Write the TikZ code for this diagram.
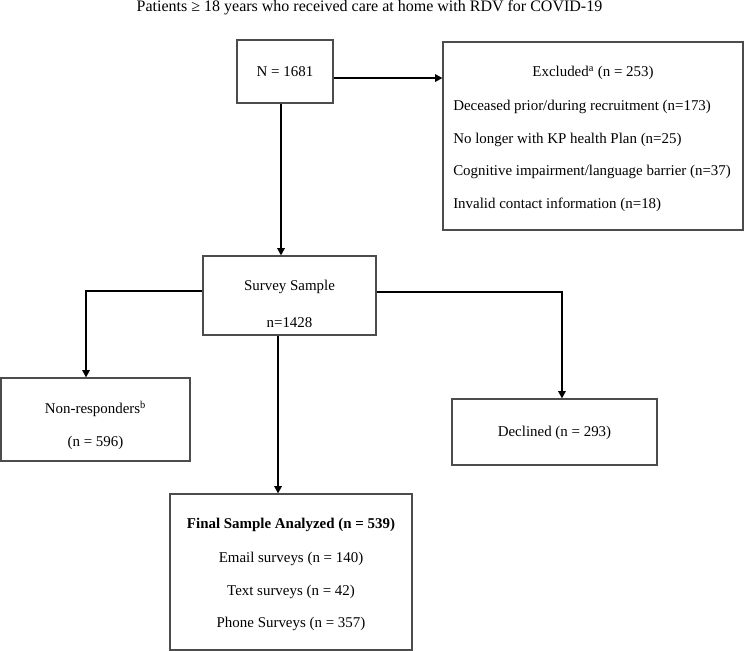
\documentclass[tikz,border=0pt]{standalone}
\usepackage{fontspec}
\setmainfont{Liberation Serif}
\usetikzlibrary{arrows.meta,positioning}

\begin{document}
\begin{tikzpicture}[
		x=0.75pt,y=-0.75pt,
		node distance=10pt,
		box/.style={
			rectangle,
			draw=black!70,
			line width=0.8pt,
			inner sep=0pt,
			align=center
		},
		txt/.style={inner sep=0pt,font=\fontsize{11.2}{13}\selectfont},
		arrow/.style={-{Triangle[length=5.5pt,width=5.5pt]},line width=1.4pt,draw=black}
		]
		\useasboundingbox (0,0) rectangle (744,651);
		\node[txt, font=\fontsize{12}{14}\selectfont] (title) at (369.5,8) {Patients ≥ 18 years who received care at home with RDV for COVID-19};

		% boxes
		\node[box, minimum width=96*0.75pt, minimum height=63*0.75pt] (nbox) at (285,71.5) {};
		\node[box, minimum width=300*0.75pt, minimum height=188*0.75pt] (excl) at (593,136) {};
		\node[box, minimum width=173*0.75pt, minimum height=79*0.75pt] (survey) at (289.5,295.5) {};
		\node[box, minimum width=189*0.75pt, minimum height=83*0.75pt] (nonresp) at (95.5,419.5) {};
		\node[box, minimum width=205*0.75pt, minimum height=66*0.75pt] (declined) at (554.5,432) {};
		\node[box, minimum width=242*0.75pt, minimum height=156*0.75pt] (final) at (291,572) {};

		% texts
		\node[txt] (ntext) at (285,72) {N = 1681};
		\node[txt] (exhead) at (593,73) {Excluded\textsuperscript{a} (n = 253)};
		\node[txt, anchor=west] (ex1) at (453,107) {Deceased prior/during recruitment (n=173)};
		\node[txt, anchor=west] (ex2) at (453,139.5) {No longer with KP health Plan (n=25)};
		\node[txt, anchor=west] (ex3) at (453,172) {Cognitive impairment/language barrier (n=37)};
		\node[txt, anchor=west] (ex4) at (453,204.5) {Invalid contact information (n=18)};
		\node[txt] (svtext) at (289.5,287) {Survey Sample};
		\node[txt] (svn) at (289.5,323) {n=1428};
		\node[txt] (nrtext) at (95.5,409) {Non-responders\textsuperscript{b}};
		\node[txt] (nrn) at (95.5,443) {(n = 596)};
		\node[txt] (dctext) at (554.5,433) {Declined (n = 293)};
		\node[txt, font=\fontsize{11.2}{13}\selectfont\bfseries] (fnhead) at (291,525) {Final Sample Analyzed (n = 539)};
		\node[txt] (fn1) at (291,559) {Email surveys (n = 140)};
		\node[txt] (fn2) at (291,591.5) {Text surveys (n = 42)};
		\node[txt] (fn3) at (291,624) {Phone Surveys (n = 357)};

		\draw[arrow] ([yshift=-4.9pt]nbox.east) -- ([yshift=-4.9pt]nbox.east -| excl.west);
		\draw[arrow] ([xshift=-3pt]nbox.south) -- ([xshift=-3pt]nbox.south |- survey.north);
		\draw[arrow] ([yshift=3.4pt]survey.west) -| ([xshift=-7.1pt]nonresp.north);
		\draw[arrow] ([yshift=2.6pt]survey.east) -| ([xshift=5.6pt]declined.north);
		\draw[arrow] ([xshift=-8.6pt]survey.south) -- ([xshift=-8.6pt]survey.south |- final.north);
\end{tikzpicture}
\end{document}
